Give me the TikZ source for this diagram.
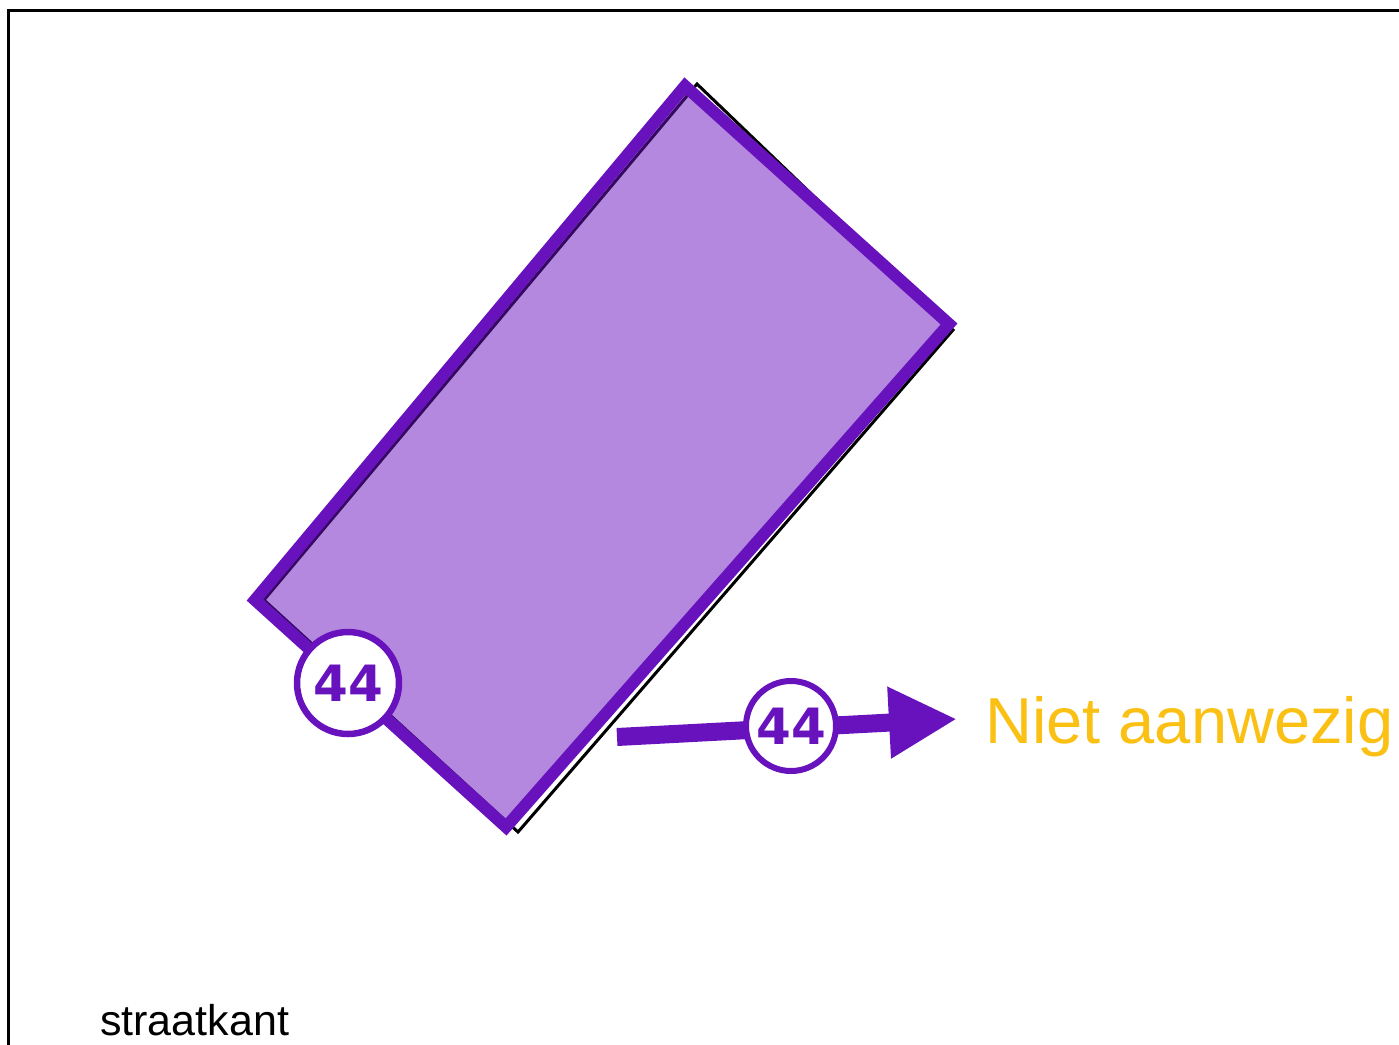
\documentclass[tikz,border=0pt]{standalone}
\usepackage{fontspec}
\setmainfont{Liberation Sans}
\newfontfamily\badgefont{DejaVu Sans}
\usetikzlibrary{positioning}
\usetikzlibrary{arrows.meta}
\definecolor{plotpurple}{RGB}{104,18,190}
\definecolor{absentyellow}{RGB}{250,192,20}
\tikzset{x=1pt, y=-1pt,
badge/.style={ % Circled house number
circle,
draw=plotpurple,
line width=6.5pt,
fill=white,
inner sep=0pt,
text=plotpurple,
font=\badgefont\fontsize{50}{50}\selectfont\bfseries},
plot/.style={ % Purple outline of the plot
draw=plotpurple,
fill=plotpurple,
fill opacity=0.5,
line width=12pt,
line join=miter},
shift arrow/.style={ % Thick arrow to the status text
draw=plotpurple,
line width=18pt,
-{Triangle[length=68pt,width=67pt]}}}

\begin{document}
\begin{tikzpicture}
	\useasboundingbox (0,0) rectangle (1399,1044);
	\clip (0,0) rectangle (1399,1044);
	\draw[line width=3pt] (8.5,1060) -- (8.5,10.5) -- (1420,10.5); % frame
	\draw[line width=3pt, line join=miter] (697,84) -- (953,330) -- (518,832) -- (264,600) -- cycle; % old outline
	\draw[plot] (685,86) -- (949,324) -- (506,827) -- (255,600) -- cycle;
	\coordinate (arrowstart) at (617,737);
	\coordinate (arrowtip) at (957,719);
	\draw[shift arrow] (arrowstart) -- (arrowtip);
	\node[badge, minimum size=102pt] (plotnr) at (348,683) {44};
	\node[badge, minimum size=90pt, line width=6pt] (shiftnr) at (791,726) {44};
	\node[anchor=base west, inner sep=0pt, text=absentyellow, font=\fontsize{65}{65}\selectfont] (status) at (985,743) {Niet aanwezig};
	\node[anchor=base west, inner sep=0pt, font=\fontsize{43}{43}\selectfont] (street) at (100,1035) {straatkant};
\end{tikzpicture}
\end{document}
